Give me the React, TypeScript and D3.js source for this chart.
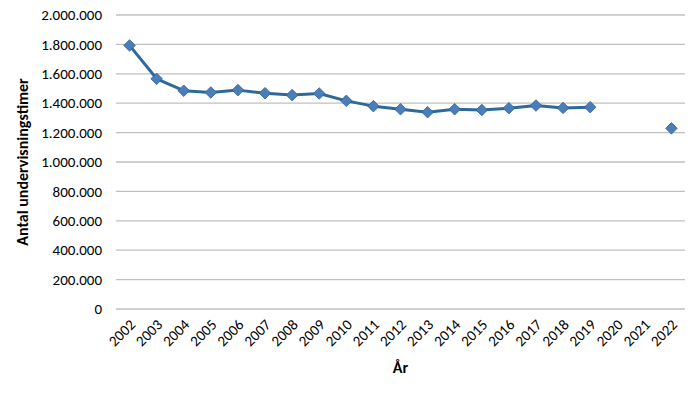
import React from 'react'
import * as d3 from 'd3'

// år og antal undervisningstimer (2020 og 2021 mangler)
const years = ['2002','2003','2004','2005','2006','2007','2008','2009','2010','2011','2012','2013','2014','2015','2016','2017','2018','2019','2020','2021','2022']
const hours: (number | null)[] = [1793000,1566000,1485000,1473000,1489000,1468000,1455000,1466000,1416000,1380000,1359000,1339000,1359000,1354000,1366000,1384000,1368000,1373000,null,null,1229000]
const yTicks = [0,200000,400000,600000,800000,1000000,1200000,1400000,1600000,1800000,2000000]

const width = 700
const height = 394
const marginLeft = 116
const marginRight = 15
const marginTop = 15
const marginBottom = 85

const fmt = (v: number) => d3.format(',')(v).replace(/,/g, '.')

export default function App() {
  const x = d3.scaleBand<string>()
    .domain(years)
    .range([marginLeft, width - marginRight])
  const y = d3.scaleLinear()
    .domain([0, 2000000])
    .range([height - marginBottom, marginTop])

  const pts = years.map((yr, i) => ({ yr, v: hours[i] }))
  const line = d3.line<{ yr: string; v: number | null }>()
    .defined(d => d.v !== null)
    .x(d => (x(d.yr) || 0) + x.bandwidth() / 2)
    .y(d => y(d.v as number))

  const font = 'Carlito, "Open Sans", "Liberation Sans", sans-serif'
  const diamond = d3.symbol().type(d3.symbolDiamond2).size(85)()

  return (
    <svg width={width} height={height} style={{ position: 'absolute', left: 0, top: 0, fontFamily: font }}>
      <rect width={width} height={height} fill="#fff" />
      {/* gitterlinjer og y-akse */}
      {yTicks.map(t => (
        <g key={t}>
          <line x1={marginLeft} x2={width - marginRight} y1={y(t)} y2={y(t)} stroke="#c0c0c0" strokeWidth={1.3} />
          <text x={marginLeft - 14} y={y(t)} dy="0.35em" textAnchor="end" fontSize={15} fill="#000">{fmt(t)}</text>
        </g>
      ))}
      {/* x-akse etiketter */}
      {years.map(yr => {
        const cx = (x(yr) || 0) + x.bandwidth() / 2
        const ty = height - marginBottom + 13
        return (
          <text key={yr} transform={`translate(${cx + 3},${ty}) rotate(-45)`} textAnchor="end" dy="0.35em" fontSize={15} fill="#000">{yr}</text>
        )
      })}
      <path d={line(pts) || ''} fill="none" stroke="#2d6a9b" strokeWidth={3} strokeLinejoin="round" />
      {pts.filter(d => d.v !== null).map(d => (
        <path key={d.yr} d={diamond || ''} transform={`translate(${(x(d.yr) || 0) + x.bandwidth() / 2},${y(d.v as number)})`} fill="#4a7ebb" stroke="#2f5f8f" strokeWidth={0.8} />
      ))}
      <text x={(marginLeft + width - marginRight) / 2} y={367} dy="0.35em" textAnchor="middle" fontSize={16} fontWeight="bold" fill="#000">År</text>
      <text transform={`translate(22,${(marginTop + height - marginBottom) / 2}) rotate(-90)`} textAnchor="middle" dy="0.35em" fontSize={16} fontWeight="bold" fill="#000">Antal undervisningstimer</text>
    </svg>
  )
}
